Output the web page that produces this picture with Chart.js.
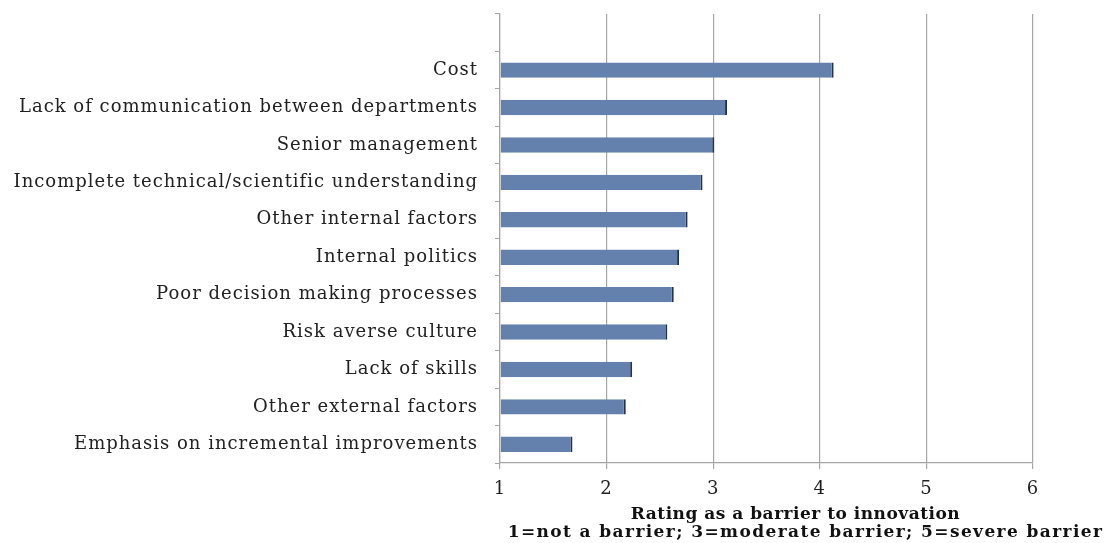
<!DOCTYPE html>
<html>
<head>
<meta charset="utf-8">
<script src="https://cdn.jsdelivr.net/npm/chart.js@4.4.1/dist/chart.umd.min.js"></script>
<style>
  html, body { margin: 0; padding: 0; background: #fff; }
  #wrap { width: 1114px; height: 543px; }
</style>
</head>
<body>
<div id="wrap"><canvas id="barrierChart" width="1114" height="543"></canvas></div>
<script>
// categories top to bottom
const categories = [
  'Cost',
  'Lack of communication between departments',
  'Senior management',
  'Incomplete technical/scientific understanding',
  'Other internal factors',
  'Internal politics',
  'Poor decision making processes',
  'Risk averse culture',
  'Lack of skills',
  'Other external factors',
  'Emphasis on incremental improvements'
];
const ratings = [4.13, 3.13, 3.01, 2.90, 2.76, 2.68, 2.63, 2.57, 2.24, 2.18, 1.68];
const xTicks = [1, 2, 3, 4, 5, 6];
const axisTitle = [
  'Rating as a barrier to innovation',
  '1=not a barrier; 3=moderate barrier; 5=severe barrier'
];

const serif = '"DejaVu Serif", "Liberation Serif", serif';

// the original font is set quite wide, so add a little letter spacing
const spacingPlugin = {
  id: 'spacing',
  beforeLayout(chart) { chart.ctx.letterSpacing = '1px'; },
  beforeDraw(chart) { chart.ctx.letterSpacing = '1px'; }
};

// draws the two-line x axis title under the ticks
const axisTitlePlugin = {
  id: 'axisTitle',
  afterDraw(chart) {
    const { ctx, chartArea } = chart;
    const cx = (chartArea.left + chartArea.right) / 2;
    ctx.save();
    ctx.fillStyle = '#111';
    ctx.textAlign = 'center';
    ctx.textBaseline = 'middle';
    ctx.font = 'bold 17px ' + serif;
    ctx.letterSpacing = '0.5px';
    ctx.fillText(axisTitle[0], cx + 29, chartArea.bottom + 52);
    ctx.letterSpacing = '1.4px';
    ctx.fillText(axisTitle[1], cx + 39, chartArea.bottom + 70);
    ctx.restore();
  }
};

const ctx = document.getElementById('barrierChart').getContext('2d');
new Chart(ctx, {
  type: 'bar',
  data: {
    labels: [''].concat(categories),   // blank slot at the top like the original
    datasets: [{
      data: [null].concat(ratings),
      backgroundColor: '#6481ae',
      borderColor: '#26324a',
      borderWidth: { right: 2, left: 0, top: 0, bottom: 0 },
      borderSkipped: false,
      barPercentage: 0.41,
      categoryPercentage: 1.0,
      base: 1
    }]
  },
  options: {
    indexAxis: 'y',
    responsive: false,
    animation: false,
    layout: { padding: { top: 14, right: 81, left: 0, bottom: 0 } },
    plugins: {
      legend: { display: false },
      tooltip: { enabled: false }
    },
    scales: {
      x: {
        min: 1,
        max: 6,
        afterBuildTicks(scale) {
          scale.ticks = xTicks.map(v => ({ value: v }));
        },
        afterFit(scale) {
          scale.height = 80;
          scale.paddingLeft = 0;
          scale.paddingRight = 0;
        },
        grid: {
          color: '#a6a6a6',
          lineWidth: 1.2,
          tickLength: 6,
          drawTicks: true
        },
        border: { color: '#a6a6a6', width: 1.2 },
        ticks: {
          color: '#222',
          font: { family: serif, size: 18 },
          padding: 10
        }
      },
      y: {
        afterFit(scale) {
          scale.width = 500;
          scale.paddingTop = 0;
          scale.paddingBottom = 0;
        },
        grid: {
          display: true,
          offset: true,
          drawOnChartArea: false,
          tickLength: 5,
          color: '#a6a6a6'
        },
        border: { color: '#a6a6a6', width: 1.2 },
        ticks: {
          color: '#222',
          font: { family: serif, size: 18 },
          padding: 17,
          autoSkip: false
        }
      }
    }
  },
  plugins: [spacingPlugin, axisTitlePlugin]
});
</script>
</body>
</html>
